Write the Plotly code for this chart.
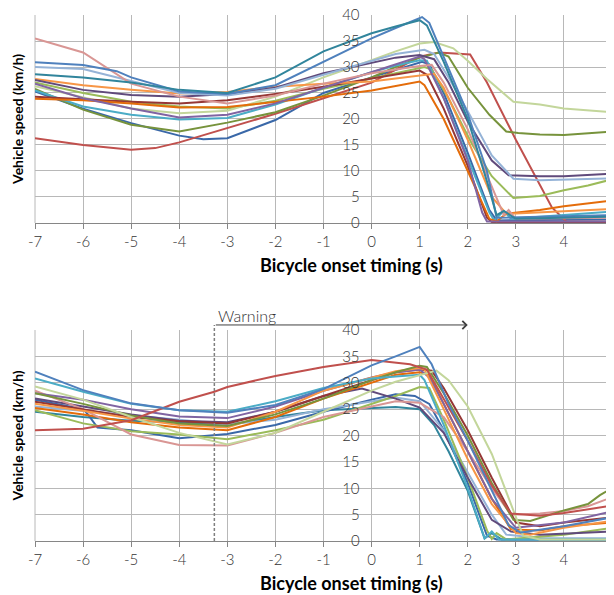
import plotly.graph_objects as go

# ---- top panel (no warning) : time (s), speed (km/h) ----
top_teal_t = [-7, -6, -5, -4, -3, -2, -1, 0, 0.5, 1.0, 1.15, 1.5, 2.0, 2.4, 2.6, 2.75, 3.0, 5]
top_teal_v = [28.6, 28.0, 27.0, 25.6, 25.0, 28.0, 33.0, 36.5, 37.8, 39.0, 38.0, 31, 20, 8, 1.5, 2.3, 0.8, 1.2]
top_blue_t = [-7, -6, -5.3, -5, -4, -3, -2, -1, 0, 0.5, 1.05, 1.2, 1.5, 2.0, 2.4, 2.6, 5]
top_blue_v = [30.9, 30.4, 29.2, 28, 25.3, 24.8, 26.5, 31.0, 35.5, 37.5, 39.6, 38.5, 32, 21, 10, 1.0, 1.5]
top_ltblue_t = [-7, -6, -5, -4, -3, -2, -1, 0, 0.5, 1.1, 1.3, 1.6, 2.0, 2.5, 2.95, 3.5, 4, 5]
top_ltblue_v = [30.0, 29.6, 27.3, 25.0, 24.5, 25.8, 28.5, 31.2, 32.5, 33.3, 32.5, 28, 21.5, 13, 8.5, 8.2, 8.3, 8.6]
top_dkpurple_t = [-7, -6, -5, -4, -3, -2, -1, 0, 0.5, 1.0, 1.3, 1.6, 2.0, 2.5, 2.85, 3.5, 4, 5]
top_dkpurple_v = [27.5, 25.6, 24.6, 24.3, 24.8, 26, 28.8, 30.8, 31.8, 32.3, 31.5, 27, 19.5, 12, 9.2, 9.0, 9.0, 9.5]
top_purple_t = [-7, -6, -5, -4, -3, -2, -1, 0, 0.5, 1.0, 1.1, 1.5, 2.0, 2.3, 2.4, 5]
top_purple_v = [26.8, 24.0, 22.0, 20.3, 20.8, 23, 26, 29, 30.5, 32, 31.5, 24, 12, 2, 0.3, 0.3]
top_red_t = [-7, -6, -5, -4.5, -4, -3, -2, -1, 0, 0.5, 1.0, 1.4, 2.05, 2.4, 3.0, 3.75, 4.05, 5]
top_red_v = [16.3, 15.0, 14.1, 14.4, 15.5, 18.3, 21, 24, 27, 29.5, 32, 32.8, 32.4, 27, 16, 3, 0.3, 0.2]
top_dkred_t = [-7, -6, -5, -4, -3, -2, -1, 0, 0.5, 1.0, 1.15, 1.5, 2.0, 2.4, 2.5, 5]
top_dkred_v = [24.3, 23.8, 23.3, 23.0, 23.6, 24.8, 26.2, 27.8, 28.6, 29.3, 28.5, 22, 11, 1, 0.2, 0.2]
top_olive_t = [-7, -6, -5, -4, -3, -2, -1, 0, 0.5, 1.0, 1.4, 1.6, 2.0, 2.45, 2.8, 3.05, 3.5, 4.0, 5]
top_olive_v = [25.8, 21.8, 18.9, 17.6, 19.3, 21.3, 24.5, 28, 30, 31.8, 32.8, 32, 26, 20.8, 17.6, 17.3, 17.0, 16.9, 17.6]
top_green_t = [-7, -6, -5, -4, -3, -2, -1, 0, 0.5, 1.1, 1.25, 1.6, 2.1, 2.5, 2.95, 3.5, 4, 4.5, 5]
top_green_v = [27.0, 25, 23.3, 22.4, 22.0, 23.5, 25.8, 27.8, 28.8, 30.0, 29.5, 24, 15, 9, 4.8, 5.2, 6.3, 7.2, 8.4]
top_ltgreen_t = [-7, -6, -5, -4, -3, -2, -1, 0, 0.5, 1.0, 1.3, 1.7, 2.0, 2.4, 2.95, 3.5, 4.0, 5]
top_ltgreen_v = [26.3, 24.2, 22.0, 21.1, 21.6, 24.3, 28, 31.3, 33, 34.5, 34.8, 33.6, 31.2, 27.7, 23.3, 22.8, 22.0, 21.3]
top_aqua_t = [-7, -6, -5, -4, -3, -2, -1, 0, 0.5, 1.0, 1.15, 1.5, 2.0, 2.45, 2.55, 2.75, 2.9, 4, 5]
top_aqua_v = [25.5, 22.4, 20.8, 19.9, 20.2, 22.8, 26, 29, 30.3, 31.3, 31.2, 24, 12.5, 2, 0.5, 2.3, 0.8, 1.5, 2.2]
top_orange_t = [-7, -6, -5, -4, -3, -2, -1, 0, 0.5, 1.0, 1.3, 1.5, 2.0, 2.5, 2.8, 3.0, 4, 5]
top_orange_v = [27.7, 26.5, 25.6, 24.9, 25.2, 26.2, 26.8, 27.2, 27.8, 28.3, 28.7, 26, 16, 5, 1.8, 1.8, 2.2, 2.7]
top_dkorange_t = [-7, -6, -5, -4, -3, -2, -1, 0, 0.5, 1.0, 1.1, 1.5, 2.0, 2.45, 2.6, 2.8, 3.5, 4, 5]
top_dkorange_v = [23.9, 23.6, 23.0, 22.2, 22.3, 23.3, 24.3, 25.5, 26.3, 27.2, 26.5, 20, 10, 0.8, 0.3, 1.8, 2.5, 3.2, 4.3]
top_pink_t = [-7, -6, -5, -4, -3, -2, -1, 0, 0.5, 1.0, 1.25, 1.5, 2.0, 2.5, 2.75, 2.85, 3.0, 5]
top_pink_v = [35.5, 32.8, 26.8, 24.3, 23.0, 24.5, 26.8, 28.8, 29.5, 30.2, 30.4, 27, 18, 7, 1.5, 2.5, 0.8, 1.0]
top_dkblue_t = [-7, -6, -5, -4, -3.5, -3, -2, -1, 0, 0.5, 1.05, 1.2, 1.5, 2.0, 2.45, 2.6, 5]
top_dkblue_v = [25.3, 22, 19.2, 16.8, 16.1, 16.3, 19.8, 25.0, 28.0, 29.5, 31.0, 30.5, 25, 13.5, 2.5, 0.5, 0.7]

# ---- bottom panel (with warning) ----
bot_blue_t = [-7, -6, -5, -4, -3, -2, -1, 0, 0.5, 1.0, 1.25, 1.6, 2.0, 2.5, 2.85, 3.1, 4, 5]
bot_blue_v = [32.1, 28.6, 26.1, 24.8, 24.3, 25.8, 28.8, 33.3, 35.0, 36.8, 33.5, 26, 19, 9.5, 3, 1.6, 2.8, 4.5]
bot_red_t = [-7, -6, -5, -4, -3.27, -3, -2, -1, 0, 0.8, 1.15, 1.5, 2.0, 2.5, 2.9, 3.5, 4, 5]
bot_red_v = [21.0, 21.3, 22.9, 26.4, 28.3, 29.2, 31.3, 33.0, 34.3, 33.5, 32.5, 27, 19, 10.5, 5.2, 4.8, 5.3, 6.7]
bot_aqua_t = [-7, -6, -5, -4, -3, -2, -1, 0, 0.5, 1.0, 1.1, 1.5, 2.0, 2.35, 2.5, 2.65, 2.8, 5]
bot_aqua_v = [30.8, 28.3, 26.0, 24.8, 24.5, 26.5, 29, 30.8, 31.2, 31.5, 30.5, 22, 10, 0.5, 1.8, 0.3, 0.3, 0.3]
bot_ltgreen_t = [-7, -6, -5, -4, -3, -2, -1, 0, 0.5, 1.0, 1.35, 1.6, 2.0, 2.5, 2.95, 3.15, 3.5, 5]
bot_ltgreen_v = [29.3, 26.8, 23.5, 20.5, 18.3, 20.5, 24.5, 28.5, 30.2, 31.5, 32.3, 30.5, 25.5, 16.5, 6, 1.0, 0.3, 0.3]
bot_pink_t = [-7, -6, -5, -4, -3, -2, -1, 0, 0.5, 1.0, 1.5, 2.0, 2.5, 2.9, 3.5, 4.0, 4.5, 5]
bot_pink_v = [28.5, 25.0, 20.2, 18.2, 18.1, 20.5, 23.5, 25.5, 26.5, 26.2, 23.5, 17, 10, 5, 5.2, 5.7, 6.6, 8.3]
bot_olive_t = [-7, -6, -5, -4, -3, -2, -1, 0, 0.5, 1.0, 1.15, 1.5, 2.0, 2.5, 2.95, 3.3, 4, 4.5, 4.75, 5]
bot_olive_v = [28.0, 26.0, 23.8, 22.3, 21.8, 24, 27, 30.5, 32, 33.2, 33, 28, 20, 11, 4, 3.8, 5.8, 7, 8.7, 10]
bot_orange_t = [-7, -6, -5, -4, -3, -2, -1, 0, 0.5, 1.0, 1.1, 1.5, 2.0, 2.5, 3.0, 3.3, 4, 5]
bot_orange_v = [26.0, 24.7, 23.2, 22.0, 21.5, 24.5, 28.5, 31, 32.2, 32.8, 32.5, 25, 15.5, 7, 1.5, 1.2, 2.5, 3.8]
bot_purple_t = [-7, -6, -5, -4, -3, -2, -1, 0, 0.5, 1.0, 1.2, 1.5, 2.0, 2.5, 3.0, 4, 5]
bot_purple_v = [28.0, 26.8, 25.0, 23.6, 23.3, 25.5, 28.5, 31, 32, 32.5, 31, 26, 17, 8, 2.5, 3.5, 5.6]
bot_dkpurple_t = [-7, -6, -5, -4, -3, -2, -1, -0.2, 0.5, 1.0, 1.5, 2.0, 2.5, 2.9, 3.5, 5]
bot_dkpurple_v = [27.0, 25.5, 24.0, 22.8, 22.5, 24.5, 27.5, 28.9, 27, 25.3, 20.5, 12, 4, 1.8, 1.2, 1.8]
bot_dkred_t = [-7, -6, -5, -4, -3, -2, -1, 0, 0.5, 1.0, 1.25, 1.5, 2.0, 2.5, 3.0, 3.5, 4, 5]
bot_dkred_v = [26.4, 25, 23.5, 22.7, 22.3, 24.5, 27.5, 30.5, 32, 32.5, 32.3, 29, 21, 12, 3.5, 2.8, 3.5, 4.5]
bot_ltblue_t = [-7, -6, -5, -4, -3, -2, -1, 0, 0.5, 1.0, 1.5, 2.0, 2.5, 2.8, 3.5, 5]
bot_ltblue_v = [25.5, 24.7, 23.8, 23.0, 22.1, 23, 25, 26.5, 27.2, 26.5, 21, 13, 5, 1.2, 0.5, 0.5]
bot_dkblue_t = [-7, -6, -5.9, -5.7, -5, -4, -3, -2, -1, 0, 0.5, 0.9, 1.2, 1.5, 2.0, 2.4, 2.6, 5]
bot_dkblue_v = [26.8, 25, 24, 21.5, 21, 19.5, 20.3, 22, 24.5, 26.8, 27.8, 27.5, 26, 21, 11, 1, 0.3, 0.3]
bot_green_t = [-7, -6, -5, -4, -3, -2, -1, 0, 0.5, 1.0, 1.2, 1.5, 2.0, 2.4, 2.5, 2.6, 2.8, 4, 5]
bot_green_v = [24.8, 22.3, 20.8, 20.2, 19.3, 21, 23, 26, 27.5, 29.2, 29, 23, 12, 2, 0.4, 1.5, 0.3, 1.2, 2.5]
bot_teal_t = [-7, -6, -5, -4, -3, -2, -1, 0, 0.5, 1.0, 1.3, 1.6, 2.0, 2.35, 2.5, 2.7, 5]
bot_teal_v = [24.5, 23.5, 22.8, 22.5, 22, 23.5, 24.8, 25.2, 25.4, 25, 22, 17, 9.5, 0.5, 1.5, 0.3, 0.3]
bot_dkorange_t = [-7, -6, -5, -4, -3, -2, -1, 0, 0.5, 1.0, 1.2, 1.5, 2.0, 2.5, 2.9, 3.5, 4, 5]
bot_dkorange_v = [25.2, 24, 22.5, 21.5, 21.0, 23.5, 27, 30, 31.5, 32, 31.5, 26, 17, 8, 2.2, 2, 2.8, 3.5]

warning_time = -3.27
warning_end = 2.0

x_ticks = [-7, -6, -5, -4, -3, -2, -1, 0, 1, 2, 3, 4, 5]
x_labels = ["-7", "-6", "-5", "-4", "-3", "-2", "-1", "0", "1", "2", "3", "4", "5"]
y_ticks = [0, 5, 10, 15, 20, 25, 30, 35, 40]

colors = {
    "teal": "#31859C", "blue": "#4F81BD", "ltblue": "#95B3D7", "dkpurple": "#604A7B",
    "purple": "#8064A2", "red": "#C0504D", "dkred": "#953735", "olive": "#77933C",
    "green": "#9BBB59", "ltgreen": "#C3D69B", "aqua": "#4BACC6", "orange": "#F79646",
    "dkorange": "#E46C0A", "pink": "#D99694", "dkblue": "#3A68A8",
}

top_series = [
    ("dkblue", top_dkblue_t, top_dkblue_v), ("red", top_red_t, top_red_v),
    ("olive", top_olive_t, top_olive_v), ("green", top_green_t, top_green_v),
    ("ltgreen", top_ltgreen_t, top_ltgreen_v), ("aqua", top_aqua_t, top_aqua_v),
    ("dkred", top_dkred_t, top_dkred_v), ("dkorange", top_dkorange_t, top_dkorange_v),
    ("orange", top_orange_t, top_orange_v), ("purple", top_purple_t, top_purple_v),
    ("dkpurple", top_dkpurple_t, top_dkpurple_v), ("ltblue", top_ltblue_t, top_ltblue_v),
    ("pink", top_pink_t, top_pink_v), ("blue", top_blue_t, top_blue_v),
    ("teal", top_teal_t, top_teal_v),
]
bot_series = [
    ("teal", bot_teal_t, bot_teal_v), ("dkblue", bot_dkblue_t, bot_dkblue_v),
    ("ltblue", bot_ltblue_t, bot_ltblue_v), ("green", bot_green_t, bot_green_v),
    ("dkpurple", bot_dkpurple_t, bot_dkpurple_v), ("dkorange", bot_dkorange_t, bot_dkorange_v),
    ("pink", bot_pink_t, bot_pink_v), ("dkred", bot_dkred_t, bot_dkred_v),
    ("purple", bot_purple_t, bot_purple_v), ("orange", bot_orange_t, bot_orange_v),
    ("olive", bot_olive_t, bot_olive_v), ("aqua", bot_aqua_t, bot_aqua_v),
    ("ltgreen", bot_ltgreen_t, bot_ltgreen_v), ("red", bot_red_t, bot_red_v),
    ("blue", bot_blue_t, bot_blue_v),
]

TICK_FONT = dict(family="Lato, Roboto, sans-serif", size=15, color="#333333", weight=300)
TITLE_FONT = dict(family="Lato, Roboto, sans-serif", size=16, color="#000000", weight=700)
GRID = "#b8b8b8"
AXIS = "#868686"

fig = go.Figure()
for name, t, v in top_series:
    fig.add_trace(go.Scatter(x=t, y=v, mode="lines", xaxis="x", yaxis="y",
                             line=dict(color=colors[name], width=2), showlegend=False))
for name, t, v in bot_series:
    fig.add_trace(go.Scatter(x=t, y=v, mode="lines", xaxis="x2", yaxis="y2",
                             line=dict(color=colors[name], width=2), showlegend=False))

# page body has an 8px margin: the figure is shrunk so the plot lands where the reference has it
y_top_dom = [0.6046, 1.0]
y_bot_dom = [0.0, 0.4011]
zero_pos = 7 / 12   # y labels sit on the x = 0 line

xcommon = dict(range=[-7, 5], tickvals=x_ticks, ticktext=x_labels, showgrid=True,
               gridcolor=GRID, gridwidth=1, showline=True, linecolor=AXIS, linewidth=1,
               ticks="outside", ticklen=5, tickcolor=AXIS, tickfont=TICK_FONT,
               ticklabeloverflow="allow", zeroline=False, automargin=False, domain=[0, 1])
ycommon = dict(range=[0, 40], tickvals=y_ticks, showgrid=True, gridcolor=GRID, gridwidth=1,
               showline=False, tickfont=TICK_FONT, zeroline=False, automargin=False,
               ticks="outside", ticklen=9, tickcolor="rgba(0,0,0,0)",
               ticklabeloverflow="allow", anchor="free", position=zero_pos)

fig.update_layout(
    width=606, height=587,
    margin=dict(l=27, r=2, t=7, b=54),
    paper_bgcolor="white", plot_bgcolor="white",
    xaxis=dict(**xcommon, anchor="y"),
    yaxis=dict(**ycommon, domain=y_top_dom),
    xaxis2=dict(**xcommon, anchor="y2"),
    yaxis2=dict(**ycommon, domain=y_bot_dom),
)

# left frame edge of each panel
for dom in (y_top_dom, y_bot_dom):
    fig.add_shape(type="line", xref="paper", yref="paper", x0=0, x1=0, y0=dom[0], y1=dom[1],
                  line=dict(color=GRID, width=1), layer="below")

# axis titles
for ymid, ytitle in [(0.8023, 0.5247), (0.2006, -0.0798)]:
    fig.add_annotation(text="Vehicle speed (km/h)", xref="paper", yref="paper",
                       x=-0.0295, y=ymid, textangle=-90, showarrow=False,
                       font=dict(TITLE_FONT, size=14), xanchor="center", yanchor="middle")
    fig.add_annotation(text="Bicycle onset timing (s)", xref="paper", yref="paper",
                       x=0.548, y=ytitle, showarrow=False, font=dict(TITLE_FONT, size=18),
                       xanchor="center", yanchor="middle")

# warning marker
fig.add_shape(type="line", xref="x2", yref="y2 domain", x0=warning_time, x1=warning_time,
              y0=0, y1=1.024, line=dict(color="#7f7f7f", width=1.5, dash="3px,2px"))
fig.add_annotation(text="", xref="x2", yref="y2 domain", x=warning_end, y=1.024,
                   axref="x2", ax=warning_time, ayref="pixel", ay=0, showarrow=True,
                   arrowhead=4, arrowsize=1.6, arrowwidth=1, arrowcolor="#404040")
fig.add_annotation(text="Warning", xref="x2", yref="y2 domain", x=warning_time, y=1.012,
                   xanchor="left", yanchor="bottom", showarrow=False, xshift=2,
                   font=dict(TICK_FONT, size=16, color="#333333"))

fig.write_html("out.html")
